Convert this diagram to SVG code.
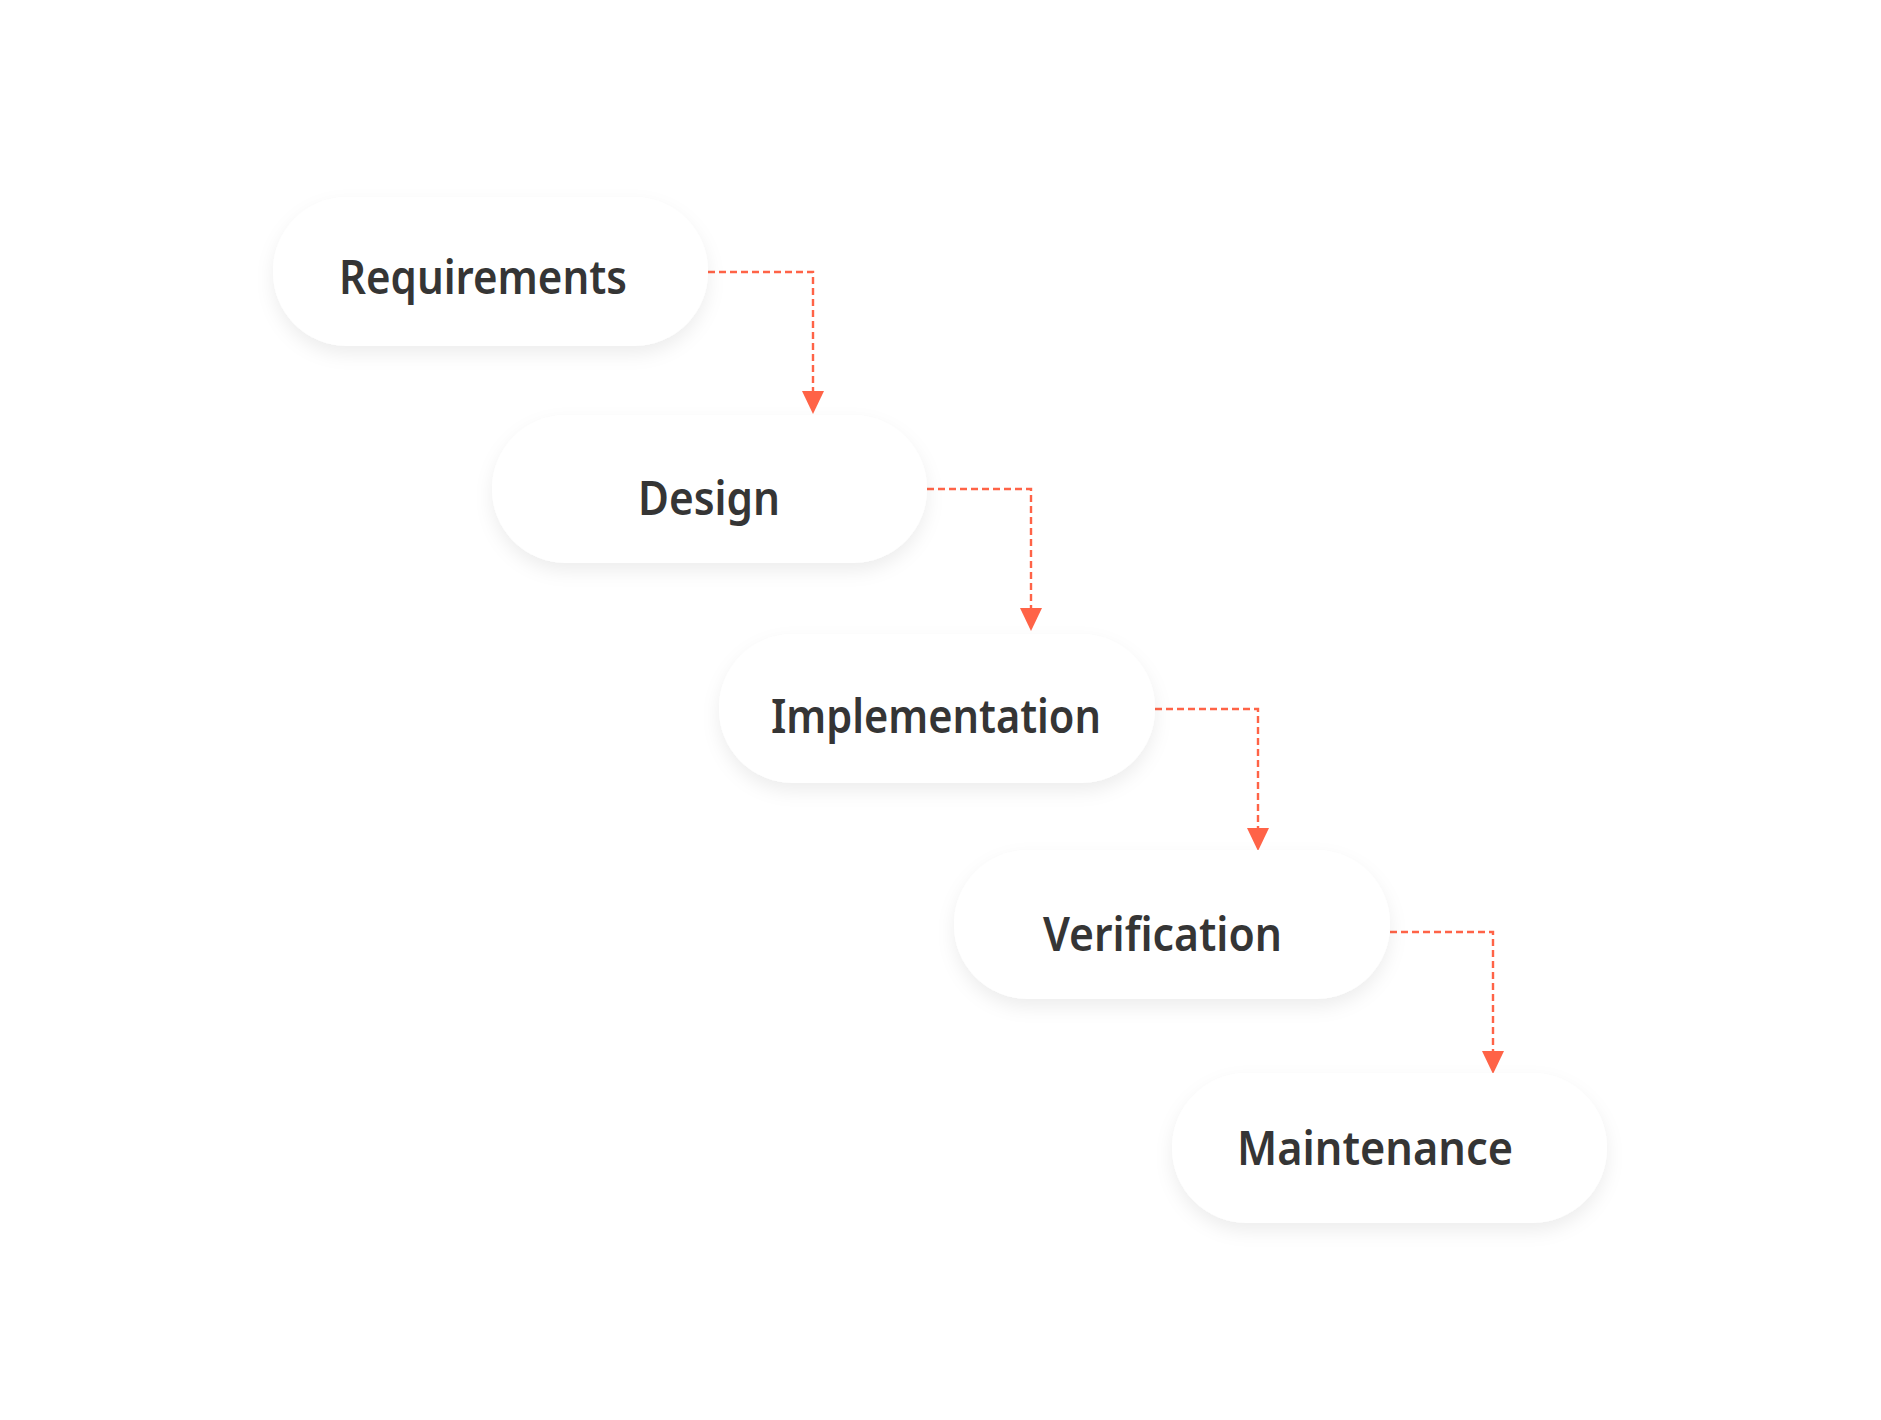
<svg xmlns="http://www.w3.org/2000/svg" width="1881" height="1420" viewBox="0 0 1881 1420">
<style>
.pill{fill:#ffffff;filter:url(#sh);}
.lbl{font-family:"Noto Sans","Liberation Sans",sans-serif;font-weight:600;font-size:46px;fill:#353535;}
.conn{fill:none;stroke:#ff6347;stroke-width:2.4;stroke-dasharray:7 4;}
.head{fill:#ff6347;}
</style>
<defs>
<filter id="sh" x="-20%" y="-30%" width="140%" height="170%">
<feDropShadow dx="0" dy="8" stdDeviation="9" flood-color="#000000" flood-opacity="0.07"/>
</filter>
</defs>
<rect width="1881" height="1420" fill="#ffffff"/>
<g id="connectors">
<path class="conn" d="M708,272 H813 V392"/>
<path class="head" d="M802,391 L824,391 L813,414 Z"/>
<path class="conn" d="M927,489 H1031 V609"/>
<path class="head" d="M1020,608 L1042,608 L1031,631 Z"/>
<path class="conn" d="M1155,709 H1258 V829"/>
<path class="head" d="M1247,828 L1269,828 L1258,851 Z"/>
<path class="conn" d="M1390,932 H1493 V1052"/>
<path class="head" d="M1482,1051 L1504,1051 L1493,1074 Z"/>
</g>
<g id="node-requirements">
<rect class="pill" x="273" y="197" width="435" height="149" rx="74" ry="74"/>
<text class="lbl" x="339" y="294" textLength="288" lengthAdjust="spacingAndGlyphs">Requirements</text>
</g>
<g id="node-design">
<rect class="pill" x="492" y="415" width="435" height="148" rx="74" ry="74"/>
<text class="lbl" x="638" y="515" textLength="142" lengthAdjust="spacingAndGlyphs">Design</text>
</g>
<g id="node-implementation">
<rect class="pill" x="719" y="634" width="436" height="149" rx="74" ry="74"/>
<text class="lbl" x="771" y="733" textLength="330" lengthAdjust="spacingAndGlyphs">Implementation</text>
</g>
<g id="node-verification">
<rect class="pill" x="954" y="850" width="436" height="149" rx="74" ry="74"/>
<text class="lbl" x="1043" y="951" textLength="239" lengthAdjust="spacingAndGlyphs">Verification</text>
</g>
<g id="node-maintenance">
<rect class="pill" x="1172" y="1073" width="435" height="150" rx="75" ry="75"/>
<text class="lbl" x="1237" y="1165" textLength="276" lengthAdjust="spacingAndGlyphs">Maintenance</text>
</g>
</svg>
